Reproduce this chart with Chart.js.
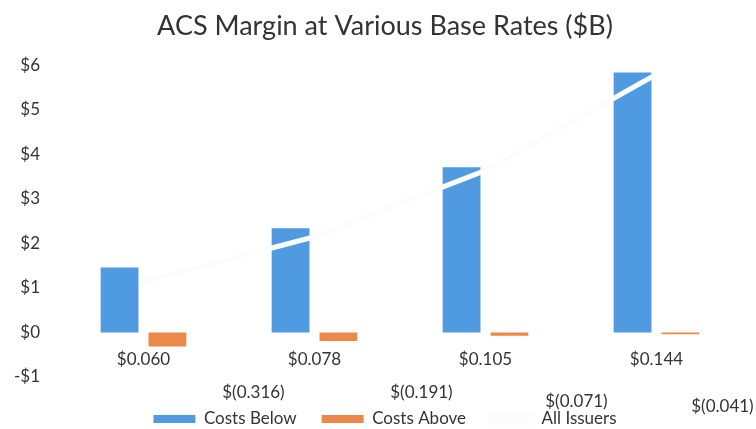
<!DOCTYPE html>
<html>
<head>
<meta charset="utf-8">
<script src="https://cdn.jsdelivr.net/npm/chart.js@4.4.1/dist/chart.umd.min.js"></script>
<style>
  html, body { margin: 0; padding: 0; background: #fff; }
  #wrap { width: 756px; height: 429px; }
</style>
</head>
<body>
<div id="wrap"><canvas id="marginChart"></canvas></div>
<script>
const baseRates = ["$0.060", "$0.078", "$0.105", "$0.144"];
const costsBelow = [1.46, 2.34, 3.71, 5.84];
const costsAbove = [-0.316, -0.191, -0.071, -0.041];
const allIssuers = [1.14, 2.15, 3.64, 5.80];
const yTicks = [-1, 0, 1, 2, 3, 4, 5, 6];

const textColor = "#333";
const fontFamily = "Lato, 'Open Sans', sans-serif";

function money(v) {
  return v < 0 ? "-$" + Math.abs(v) : "$" + v;
}

// labels for the negative bars were dragged off to the lower right in the original
const labelShift = [[86, 16], [83, 16], [67, 25], [42, 30]];

const aboveLabels = {
  id: "aboveLabels",
  afterDatasetsDraw(chart) {
    const { ctx, chartArea } = chart;
    const meta = chart.getDatasetMeta(1);
    ctx.save();
    ctx.font = "17px " + fontFamily;
    ctx.fillStyle = textColor;
    ctx.textAlign = "center";
    ctx.textBaseline = "middle";
    meta.data.forEach((bar, i) => {
      const txt = "$(" + Math.abs(costsAbove[i]).toFixed(3) + ")";
      const [dx, dy] = labelShift[i];
      ctx.fillText(txt, bar.x + dx, chartArea.bottom + dy);
    });
    ctx.restore();
  }
};

const ctx = document.getElementById("marginChart").getContext("2d");
new Chart(ctx, {
  data: {
    labels: baseRates,
    datasets: [
      {
        type: "bar",
        label: "Costs Below",
        data: costsBelow,
        backgroundColor: "#4f9ae0",
        categoryPercentage: 0.56,
        barPercentage: 0.79,
        order: 2
      },
      {
        type: "bar",
        label: "Costs Above",
        data: costsAbove,
        backgroundColor: "#ec884a",
        categoryPercentage: 0.56,
        barPercentage: 0.79,
        order: 2
      },
      {
        type: "line",
        label: "All Issuers",
        data: allIssuers,
        borderColor: "#fcfcfc",
        backgroundColor: "#fcfcfc",
        borderWidth: 5,
        pointRadius: 0,
        fill: false,
        order: 1
      }
    ]
  },
  options: {
    responsive: true,
    maintainAspectRatio: false,
    animation: false,
    layout: { padding: { left: 14, right: 0, top: 0, bottom: -8.4 } },
    scales: {
      x: {
        position: { y: 0 },
        grid: { display: false, drawTicks: false },
        border: { display: false },
        ticks: { color: textColor, font: { size: 17, family: fontFamily }, padding: 17 }
      },
      y: {
        min: -1,
        max: 6,
        afterFit: scale => { scale.width = 44; },
        afterBuildTicks: scale => { scale.ticks = yTicks.map(v => ({ value: v })); },
        grid: { display: false, drawTicks: false },
        border: { display: false },
        ticks: {
          color: textColor,
          font: { size: 17, family: fontFamily },
          padding: 18,
          callback: v => money(v)
        }
      },
      // empty strip on the right so the plot ends where the original does
      yRight: {
        position: "right",
        afterFit: scale => { scale.width = 14; },
        grid: { display: false, drawTicks: false },
        border: { display: false },
        ticks: { display: false }
      }
    },
    plugins: {
      title: {
        display: true,
        text: "ACS Margin at Various Base Rates ($B)",
        color: textColor,
        font: { size: 27, family: fontFamily, weight: "normal" },
        padding: { top: 10, bottom: 23 }
      },
      legend: {
        position: "bottom",
        title: { display: true, text: "", font: { size: 7 }, padding: 0 },
        labels: {
          color: textColor,
          font: { size: 17, family: fontFamily },
          boxWidth: 42,
          boxHeight: 8,
          padding: 25,
          sort: (a, b) => a.datasetIndex - b.datasetIndex
        }
      },
      tooltip: { enabled: false }
    }
  },
  plugins: [aboveLabels]
});
</script>
</body>
</html>
